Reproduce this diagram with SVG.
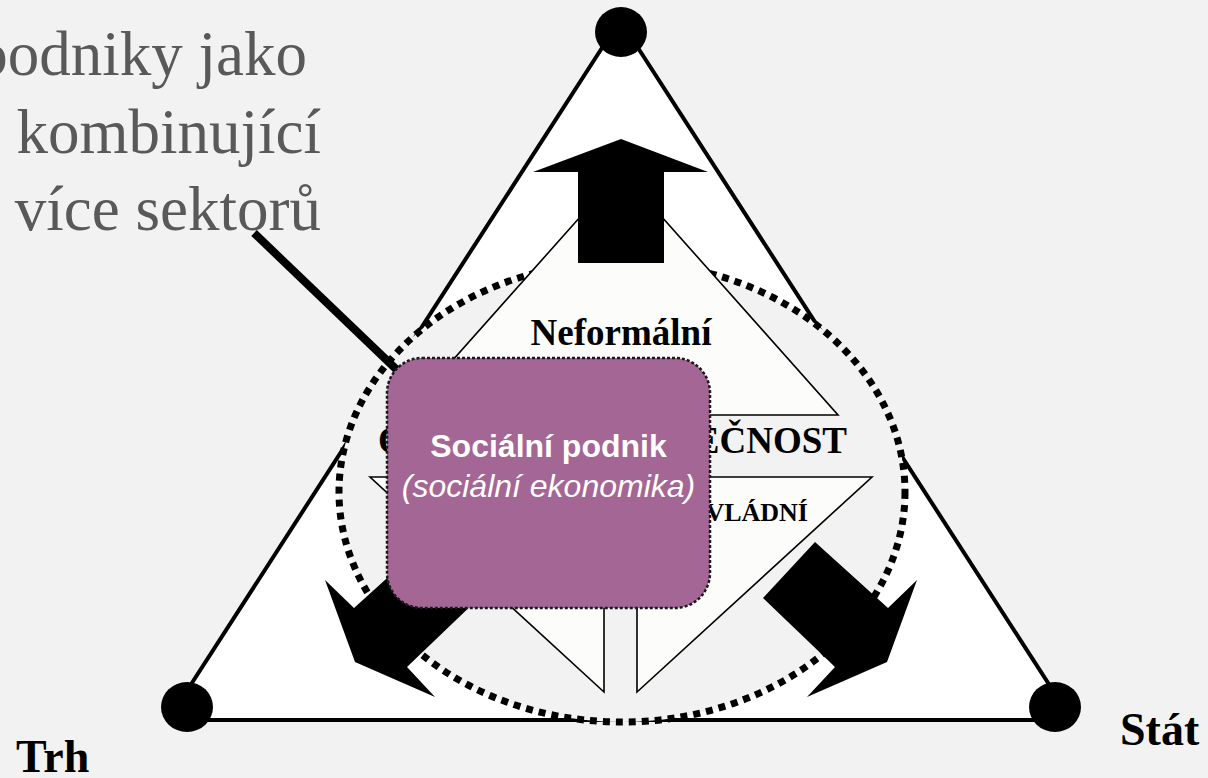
<svg xmlns="http://www.w3.org/2000/svg" width="1208" height="778" viewBox="0 0 1208 778">
<style>
.cap{font-family:"Liberation Serif","Times New Roman",serif;font-size:63px;fill:#595959}
.lbl{font-family:"Liberation Serif","Times New Roman",serif;font-weight:bold;fill:#000}
.inner{fill:#fcfcfb;stroke:#000;stroke-width:1.6;stroke-linejoin:miter}
.arrow{fill:#000;stroke:none}
.vertex{fill:#000}
.boxt{font-family:"Liberation Sans",Arial,sans-serif;font-size:32px;fill:#ffffff}
</style>
<rect id="background" x="0" y="0" width="1208" height="778" fill="#f2f2f2"/>

<g id="caption">
  <text class="cap" x="307" y="75" text-anchor="end">podniky jako</text>
  <text class="cap" x="321" y="153" text-anchor="end">kombinující</text>
  <text class="cap" x="321" y="230" text-anchor="end">více sektorů</text>
</g>

<g id="outer-triangle">
  <polygon points="620,20 168,720 1072,720" fill="#ffffff" stroke="#000" stroke-width="4" stroke-linejoin="round"/>
</g>

<g id="vertex-top"><ellipse class="vertex" cx="621" cy="32" rx="26" ry="25"/></g>
<g id="vertex-trh">
  <ellipse class="vertex" cx="187" cy="707" rx="26" ry="25"/>
  <text class="lbl" x="16" y="772" font-size="46">Trh</text>
</g>
<g id="vertex-stat">
  <ellipse class="vertex" cx="1055" cy="707" rx="26" ry="25"/>
  <text class="lbl" x="1120" y="745" font-size="46">Stát</text>
</g>

<g id="third-sector-circle">
  <ellipse cx="622" cy="492" rx="283" ry="230" fill="#f2f2f2" stroke="#000" stroke-width="7" stroke-dasharray="7 6"/>
</g>

<g id="informal-triangle">
  <polygon class="inner" points="621,171 404,415 838,415"/>
  <text class="lbl" x="621" y="345" font-size="37" text-anchor="middle">Neformální</text>
</g>

<g id="lower-triangle">
  <polygon class="inner" points="370,477 604,477 604,692"/>
  <polygon class="inner" points="637,477 872,477 637,692"/>
  <text class="lbl" x="808" y="521" font-size="26" text-anchor="end">VLÁDNÍ</text>
</g>

<g id="civil-society-label">
  <text class="lbl" x="378" y="453" font-size="37">O</text>
  <text class="lbl" x="847" y="453" font-size="37" text-anchor="end">EČNOST</text>
</g>

<g id="arrows">
  <polygon class="arrow" points="578,263 578,172 533,172 621,139 708,172 664,172 664,263"/>
  <polygon class="arrow" points="815,542 888,608 917,580 887,662 807,697 835,667 763,598"/>
  <polygon class="arrow" points="427,542 354,608 325,580 355,662 435,697 407,667 479,598"/>
</g>

<g id="connectors">
  <line x1="254" y1="233" x2="397" y2="370" stroke="#000" stroke-width="8"/>
</g>

<g id="social-enterprise">
  <rect x="387" y="358" width="323" height="250" rx="35" ry="35" fill="#a46694" stroke="#1a1a1a" stroke-width="2.5" stroke-dasharray="3 2"/>
  <text class="boxt" x="548.5" y="457" text-anchor="middle" font-weight="bold">Sociální podnik</text>
  <text class="boxt" x="548.5" y="497" text-anchor="middle" font-style="italic">(sociální ekonomika)</text>
</g>
</svg>
